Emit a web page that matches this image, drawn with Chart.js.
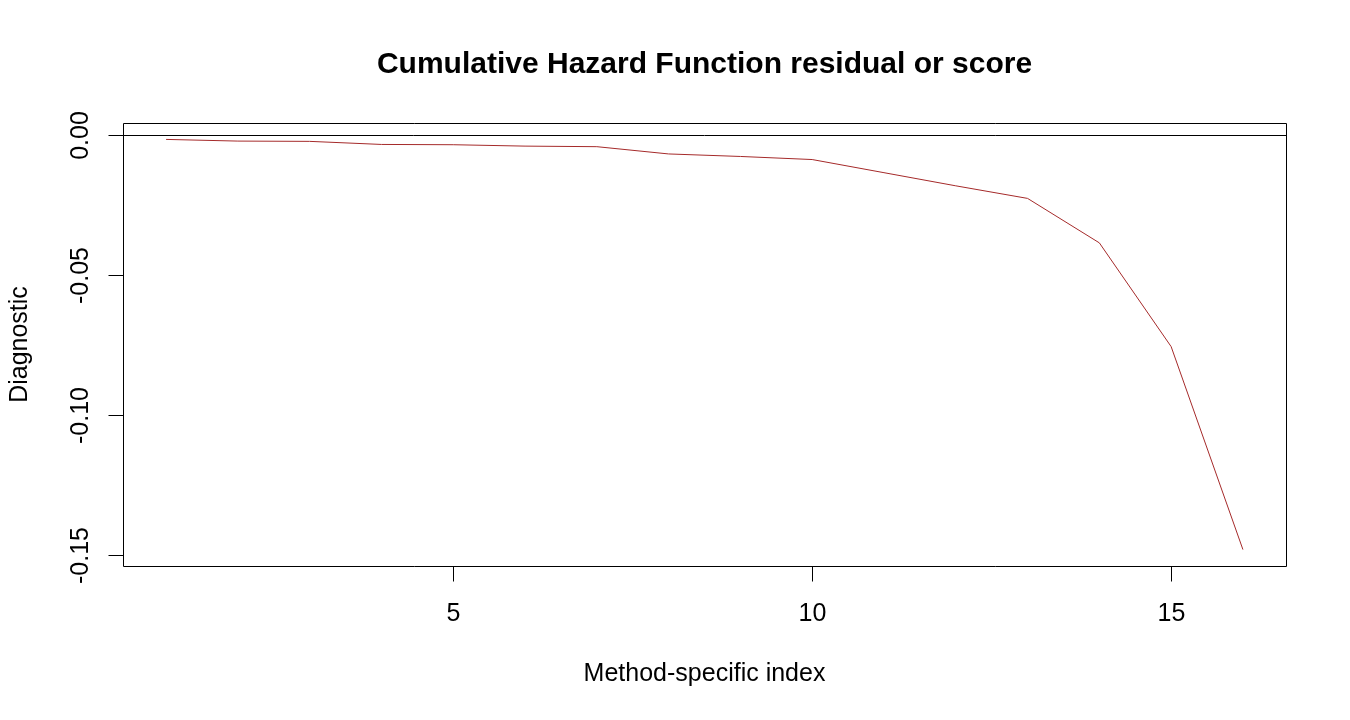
<!DOCTYPE html>
<html>
<head>
<meta charset="utf-8">
<script src="https://cdn.jsdelivr.net/npm/chart.js@4"></script>
<style>
  html, body { margin: 0; padding: 0; background: #ffffff; }
  #wrap { width: 1350px; height: 720px; }
</style>
</head>
<body>
<div id="wrap"><canvas id="c" width="1350" height="720"></canvas></div>
<script>
const indexValues = [1, 2, 3, 4, 5, 6, 7, 8, 9, 10, 11, 12, 13, 14, 15, 16];
const diagnosticValues = [-0.0015, -0.0021, -0.0022, -0.0033, -0.0034, -0.0039, -0.0041, -0.0067,
                          -0.0076, -0.0087, -0.0134, -0.0181, -0.0226, -0.0385, -0.0756, -0.1482];
const xTickValues = [5, 10, 15];
const xTickLabels = ['5', '10', '15'];
const yTickValues = [0, -0.05, -0.10, -0.15];
const yTickLabels = ['0.00', '-0.05', '-0.10', '-0.15'];
const titleText = 'Cumulative Hazard Function residual or score';
const xTitle = 'Method-specific index';
const yTitle = 'Diagnostic';

// R-style 4% range extension
function extRange(arr) {
  const lo = Math.min(...arr), hi = Math.max(...arr);
  const d = (hi - lo) * 0.04;
  return [lo - d, hi + d];
}
const xr = extRange(indexValues);
const yr = extRange(diagnosticValues);

const points = indexValues.map((x, i) => ({ x: x, y: diagnosticValues[i] }));

const FONT = '"Liberation Sans", Arial, sans-serif';

const rPlot = {
  id: 'rPlot',
  afterDatasetsDraw(chart) {
    const ctx = chart.ctx;
    const a = chart.chartArea;
    const xs = chart.scales.x, ys = chart.scales.y;
    ctx.save();
    ctx.strokeStyle = '#000000';
    ctx.lineWidth = 1;
    // abline h = 0
    const y0 = Math.round(ys.getPixelForValue(0)) + 0.5;
    ctx.beginPath();
    ctx.moveTo(a.left, y0);
    ctx.lineTo(a.right, y0);
    ctx.stroke();
    // box
    const L = Math.round(a.left) + 0.5, T = Math.round(a.top) + 0.5;
    const R = Math.round(a.right) + 0.5, B = Math.round(a.bottom) + 0.5;
    ctx.beginPath();
    ctx.rect(L, T, R - L, B - T);
    ctx.stroke();
    // x ticks
    ctx.fillStyle = '#000000';
    ctx.font = '25px ' + FONT;
    ctx.textAlign = 'center';
    ctx.textBaseline = 'alphabetic';
    xTickValues.forEach((v, i) => {
      const px = Math.round(xs.getPixelForValue(v)) + 0.5;
      ctx.beginPath();
      ctx.moveTo(px, B);
      ctx.lineTo(px, B + 15);
      ctx.stroke();
      ctx.fillText(xTickLabels[i], px, 621);
    });
    // y ticks
    yTickValues.forEach((v, i) => {
      const py = Math.round(ys.getPixelForValue(v)) + 0.5;
      ctx.beginPath();
      ctx.moveTo(L, py);
      ctx.lineTo(L - 15, py);
      ctx.stroke();
      ctx.save();
      ctx.translate(88, py);
      ctx.rotate(-Math.PI / 2);
      ctx.textAlign = 'center';
      ctx.textBaseline = 'alphabetic';
      ctx.fillText(yTickLabels[i], 0, 0);
      ctx.restore();
    });
    // axis titles
    ctx.fillText(xTitle, (a.left + a.right) / 2, 681);
    ctx.save();
    ctx.translate(27, (a.top + a.bottom) / 2);
    ctx.rotate(-Math.PI / 2);
    ctx.textAlign = 'center';
    ctx.fillText(yTitle, 0, 0);
    ctx.restore();
    // main title
    ctx.font = 'bold 30px ' + FONT;
    ctx.textAlign = 'center';
    ctx.fillText(titleText, (a.left + a.right) / 2, 73);
    ctx.restore();
  }
};

new Chart(document.getElementById('c'), {
  type: 'line',
  data: {
    datasets: [{
      data: points,
      borderColor: '#A52A2A',
      borderWidth: 1,
      pointRadius: 0,
      pointHoverRadius: 0,
      tension: 0,
      fill: false
    }]
  },
  options: {
    responsive: false,
    animation: false,
    devicePixelRatio: 1,
    layout: { padding: { left: 123, top: 123, right: 64, bottom: 154 } },
    plugins: { legend: { display: false }, title: { display: false }, tooltip: { enabled: false } },
    events: [],
    scales: {
      x: { type: 'linear', display: false, min: xr[0], max: xr[1] },
      y: { type: 'linear', display: false, min: yr[0], max: yr[1] }
    }
  },
  plugins: [rPlot]
});
</script>
</body>
</html>
